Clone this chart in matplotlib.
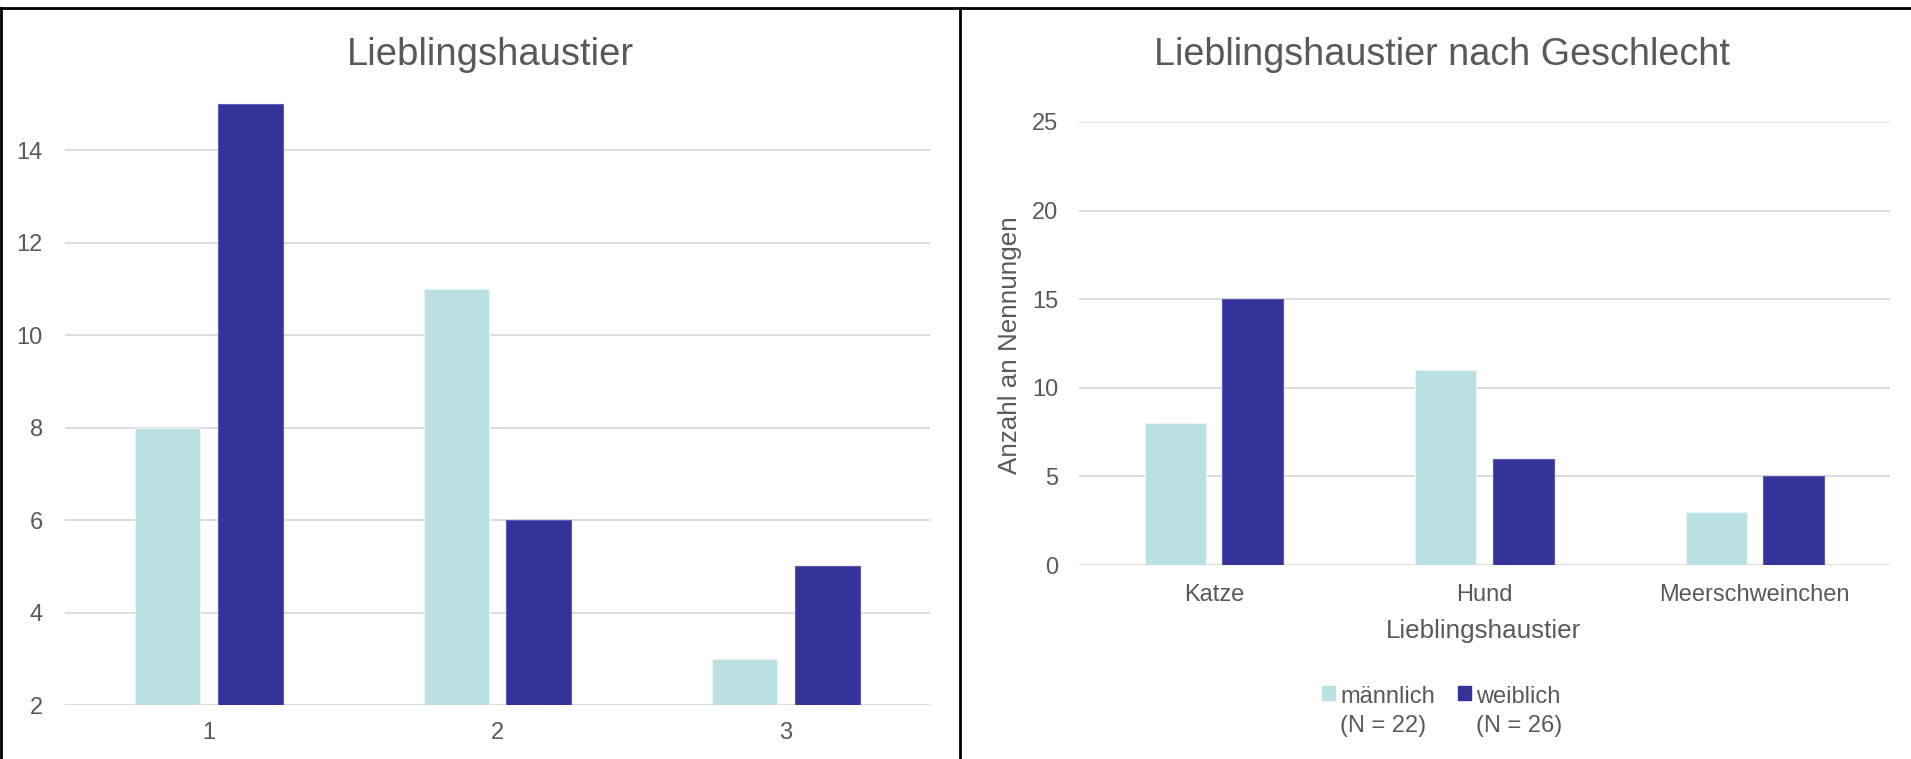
import numpy as np
import matplotlib
matplotlib.use("Agg")
import matplotlib.pyplot as plt
from matplotlib.patches import Rectangle
from matplotlib.lines import Line2D
from matplotlib.legend_handler import HandlerPatch

plt.rcParams['font.family'] = ['Liberation Sans', 'DejaVu Sans']

# data
tiere = ["Katze", "Hund", "Meerschweinchen"]
nummern = ["1", "2", "3"]
maennlich = [8, 11, 3]
weiblich = [15, 6, 5]
legend_labels = ["männlich\n(N = 22)", "weiblich\n(N = 26)"]

hell = '#BBE0E3'
dunkel = '#333399'
grau = '#595959'
gitter = '#D9D9D9'

W, H = 1911, 759
fig = plt.figure(figsize=(W / 100, H / 100), dpi=100)


def px_axes(x0, y0, x1, y1):
    # pixel box (top-left origin) -> figure axes
    return fig.add_axes([x0 / W, 1 - y1 / H, (x1 - x0) / W, (y1 - y0) / H])


def style(ax, ticks):
    ax.set_yticks(ticks)
    ax.yaxis.grid(True, color=gitter, linewidth=1.3)
    ax.set_axisbelow(True)
    for s in ax.spines.values():
        s.set_visible(False)
    ax.tick_params(length=0, colors=grau, labelsize=17)


x = np.arange(len(tiere))
bw = 0.225
off = 0.143

# left chart
ax1 = px_axes(65, 90, 930, 705)
ax1.bar(x - off, maennlich, bw, color=hell, edgecolor='#E8F4F5', linewidth=0.8)
ax1.bar(x + off, weiblich, bw, color=dunkel, edgecolor='#5A5AB2', linewidth=0.8)
ax1.set_xlim(-0.5, 2.5)
ax1.set_ylim(2, 15.3)
style(ax1, np.arange(2, 15, 2))
ax1.set_xticks(x, nummern)
ax1.tick_params(axis='x', pad=12)
ax1.tick_params(axis='y', pad=16)
fig.text(490 / W, 1 - 55 / H, "Lieblingshaustier", ha='center', va='center',
         fontsize=27.5, color=grau)

# right chart
ax2 = px_axes(1079, 122, 1890, 565)
ax2.bar(x - off, maennlich, bw, color=hell, edgecolor='#E8F4F5', linewidth=0.8)
ax2.bar(x + off, weiblich, bw, color=dunkel, edgecolor='#5A5AB2', linewidth=0.8)
ax2.set_xlim(-0.5, 2.5)
ax2.set_ylim(0, 25)
style(ax2, np.arange(0, 26, 5))
ax2.set_xticks(x, tiere)
ax2.tick_params(axis='x', pad=14)
ax2.tick_params(axis='y', pad=15)
fig.text(1442 / W, 1 - 55 / H, "Lieblingshaustier nach Geschlecht", ha='center',
         va='center', fontsize=27.2, color=grau)
fig.text(1010 / W, 1 - 345 / H, "Anzahl an Nennungen", rotation=90, ha='center',
         va='center', fontsize=18.7, color=grau)
fig.text(1484 / W, 1 - 631 / H, "Lieblingshaustier", ha='center', va='center',
         fontsize=18.7, color=grau)


# legend: square next to the first text line
def top_square(legend, orig_handle, xdescent, ydescent, width, height, fontsize):
    return Rectangle((-xdescent, -ydescent + fontsize * 0.78), width, height)


handles = [Rectangle((0, 0), 1, 1, color=hell), Rectangle((0, 0), 1, 1, color=dunkel)]
leg = fig.legend(handles, legend_labels, loc='upper left',
                 bbox_to_anchor=(1322 / W, 1 - 686 / H), ncol=2, frameon=False,
                 fontsize=17, labelcolor=grau, handlelength=0.56, handleheight=0.52,
                 handletextpad=0.22, columnspacing=0.95, borderpad=0, borderaxespad=0,
                 handler_map={Rectangle: HandlerPatch(patch_func=top_square)})
for t in leg.get_texts():
    t.set_linespacing(1.42)

# frame lines
fig.add_artist(Line2D([0, 1], [1 - 7.5 / H, 1 - 7.5 / H], transform=fig.transFigure,
                      color='black', linewidth=2))
fig.add_artist(Line2D([1 / W, 1 / W], [0, 1 - 7.5 / H], transform=fig.transFigure,
                      color='black', linewidth=2))
fig.add_artist(Line2D([960 / W, 960 / W], [0, 1 - 7.5 / H], transform=fig.transFigure,
                      color='black', linewidth=2))

fig.savefig("out.png", dpi=100, facecolor='white')
